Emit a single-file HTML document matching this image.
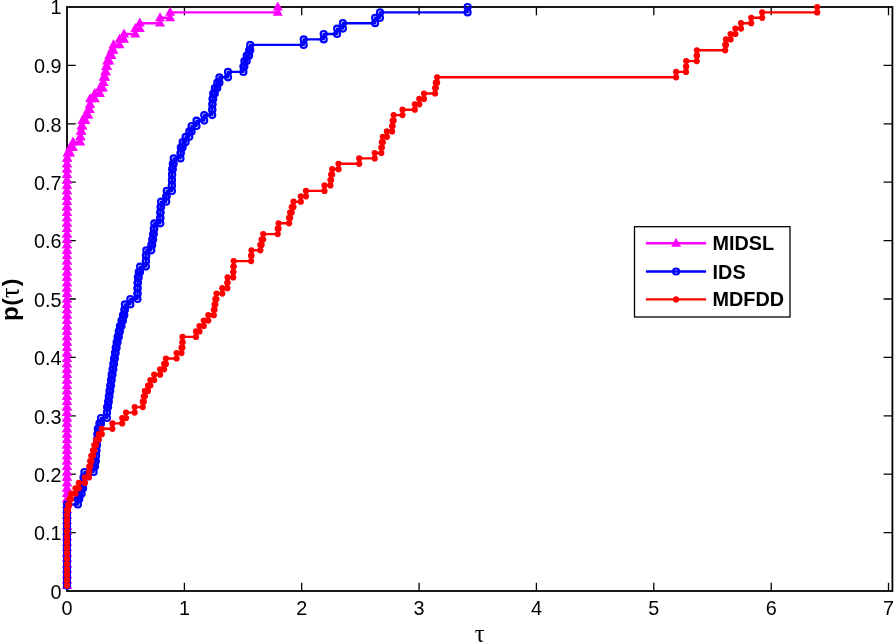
<!DOCTYPE html>
<html><head><meta charset="utf-8"><title>Performance profile</title>
<style>html,body{margin:0;padding:0;background:#fff}svg{display:block}text{font-family:"Liberation Sans",sans-serif;fill:#000}</style></head>
<body>
<svg width="894" height="642" viewBox="0 0 894 642">
<rect width="894" height="642" fill="#fff"/>
<defs><path id="t" d="M0-5.6L5 3.4H-5Z" fill="#f0f"/><circle id="c" r="3" fill="none" stroke="#00f" stroke-width="2.2"/><circle id="d" r="3.1" fill="#f00"/></defs>
<path d="M184.4 591.0v-8.2M184.4 7.0v8.2M301.7 591.0v-8.2M301.7 7.0v8.2M419.1 591.0v-8.2M419.1 7.0v8.2M536.4 591.0v-8.2M536.4 7.0v8.2M653.8 591.0v-8.2M653.8 7.0v8.2M771.2 591.0v-8.2M771.2 7.0v8.2M888.5 591.0v-8.2M888.5 7.0v8.2M67.0 532.6h8.8M892.4 532.6h-8.8M67.0 474.2h8.8M892.4 474.2h-8.8M67.0 415.8h8.8M892.4 415.8h-8.8M67.0 357.4h8.8M892.4 357.4h-8.8M67.0 299h8.8M892.4 299h-8.8M67.0 240.6h8.8M892.4 240.6h-8.8M67.0 182.2h8.8M892.4 182.2h-8.8M67.0 123.8h8.8M892.4 123.8h-8.8M67.0 65.4h8.8M892.4 65.4h-8.8" stroke="#000" stroke-width="1.3" fill="none"/>
<rect x="67.0" y="7.0" width="825.4" height="584.0" fill="none" stroke="#000" stroke-width="1.8"/>
<polyline fill="none" stroke="#f0f" stroke-width="2.4" stroke-linejoin="round" points="67,585.6 67,585.6 67,580.2 67,580.2 67,574.8 67,574.8 67,569.4 67,569.4 67,564 67,564 67,558.6 67,558.6 67,553.1 67,553.1 67,547.7 67,547.7 67,542.3 67,542.3 67,536.9 67,536.9 67,531.5 67,531.5 67,526.1 67,526.1 67,520.7 67,520.7 67,515.3 67,515.3 67,509.9 67,509.9 67,504.5 67,504.5 67,499.1 67,499.1 67,493.7 67,493.7 67,488.3 67,488.3 67,482.9 67,482.9 67,477.4 67,477.4 67,472 67,472 67,466.6 67,466.6 67,461.2 67,461.2 67,455.8 67,455.8 67,450.4 67,450.4 67,445 67,445 67,439.6 67,439.6 67,434.2 67,434.2 67,428.8 67,428.8 67,423.4 67,423.4 67,418 67,418 67,412.6 67,412.6 67,407.1 67,407.1 67,401.7 67,401.7 67,396.3 67,396.3 67,390.9 67,390.9 67,385.5 67,385.5 67,380.1 67,380.1 67,374.7 67,374.7 67,369.3 67,369.3 67,363.9 67,363.9 67,358.5 67,358.5 67,353.1 67,353.1 67,347.7 67,347.7 67,342.3 67,342.3 67,336.9 67,336.9 67,331.4 67,331.4 67,326 67,326 67,320.6 67,320.6 67,315.2 67,315.2 67,309.8 67,309.8 67,304.4 67,304.4 67,299 67,299 67,293.6 67,293.6 67,288.2 67,288.2 67,282.8 67,282.8 67,277.4 67,277.4 67,272 67,272 67,266.6 67,266.6 67,261.1 67,261.1 67,255.7 67,255.7 67,250.3 67,250.3 67,244.9 67,244.9 67,239.5 67,239.5 67,234.1 67,234.1 67,228.7 67,228.7 67,223.3 67,223.3 67,217.9 67,217.9 67,212.5 67,212.5 67,207.1 67,207.1 67,201.7 67,201.7 67,196.3 67,196.3 67,190.9 67,190.9 67,185.4 67,185.4 67,180 67,180 67,174.6 67,174.6 67,169.2 67,169.2 67,163.8 67,163.8 67,158.4 67.5,158.4 67.5,153 70.1,153 70.1,147.6 73,147.6 73,142.2 80.2,142.2 80.2,136.8 80.6,136.8 80.6,131.4 81.5,131.4 81.5,126 82.4,126 82.4,120.6 85.5,120.6 85.5,115.1 88.2,115.1 88.2,109.7 89.9,109.7 89.9,104.3 90.1,104.3 90.1,98.9 94.8,98.9 94.8,93.5 99.9,93.5 99.9,88.1 102.9,88.1 102.9,82.7 103.6,82.7 103.6,77.3 105.2,77.3 105.2,71.9 106,71.9 106,66.5 107.2,66.5 107.2,61.1 109.3,61.1 109.3,55.7 111.5,55.7 111.5,50.3 113.5,50.3 113.5,44.9 119.5,44.9 119.5,39.4 124,39.4 124,34 135.3,34 135.3,28.6 139.8,28.6 139.8,23.2 160,23.2 160,17.8 170.1,17.8 170.1,12.4 277.8,12.4 277.8,7"/>
<g><use href="#t" x="67" y="585.6"/><use href="#t" x="67" y="585.6"/><use href="#t" x="67" y="580.2"/><use href="#t" x="67" y="580.2"/><use href="#t" x="67" y="574.8"/><use href="#t" x="67" y="574.8"/><use href="#t" x="67" y="569.4"/><use href="#t" x="67" y="569.4"/><use href="#t" x="67" y="564"/><use href="#t" x="67" y="564"/><use href="#t" x="67" y="558.6"/><use href="#t" x="67" y="558.6"/><use href="#t" x="67" y="553.1"/><use href="#t" x="67" y="553.1"/><use href="#t" x="67" y="547.7"/><use href="#t" x="67" y="547.7"/><use href="#t" x="67" y="542.3"/><use href="#t" x="67" y="542.3"/><use href="#t" x="67" y="536.9"/><use href="#t" x="67" y="536.9"/><use href="#t" x="67" y="531.5"/><use href="#t" x="67" y="531.5"/><use href="#t" x="67" y="526.1"/><use href="#t" x="67" y="526.1"/><use href="#t" x="67" y="520.7"/><use href="#t" x="67" y="520.7"/><use href="#t" x="67" y="515.3"/><use href="#t" x="67" y="515.3"/><use href="#t" x="67" y="509.9"/><use href="#t" x="67" y="509.9"/><use href="#t" x="67" y="504.5"/><use href="#t" x="67" y="504.5"/><use href="#t" x="67" y="499.1"/><use href="#t" x="67" y="499.1"/><use href="#t" x="67" y="493.7"/><use href="#t" x="67" y="493.7"/><use href="#t" x="67" y="488.3"/><use href="#t" x="67" y="488.3"/><use href="#t" x="67" y="482.9"/><use href="#t" x="67" y="482.9"/><use href="#t" x="67" y="477.4"/><use href="#t" x="67" y="477.4"/><use href="#t" x="67" y="472"/><use href="#t" x="67" y="472"/><use href="#t" x="67" y="466.6"/><use href="#t" x="67" y="466.6"/><use href="#t" x="67" y="461.2"/><use href="#t" x="67" y="461.2"/><use href="#t" x="67" y="455.8"/><use href="#t" x="67" y="455.8"/><use href="#t" x="67" y="450.4"/><use href="#t" x="67" y="450.4"/><use href="#t" x="67" y="445"/><use href="#t" x="67" y="445"/><use href="#t" x="67" y="439.6"/><use href="#t" x="67" y="439.6"/><use href="#t" x="67" y="434.2"/><use href="#t" x="67" y="434.2"/><use href="#t" x="67" y="428.8"/><use href="#t" x="67" y="428.8"/><use href="#t" x="67" y="423.4"/><use href="#t" x="67" y="423.4"/><use href="#t" x="67" y="418"/><use href="#t" x="67" y="418"/><use href="#t" x="67" y="412.6"/><use href="#t" x="67" y="412.6"/><use href="#t" x="67" y="407.1"/><use href="#t" x="67" y="407.1"/><use href="#t" x="67" y="401.7"/><use href="#t" x="67" y="401.7"/><use href="#t" x="67" y="396.3"/><use href="#t" x="67" y="396.3"/><use href="#t" x="67" y="390.9"/><use href="#t" x="67" y="390.9"/><use href="#t" x="67" y="385.5"/><use href="#t" x="67" y="385.5"/><use href="#t" x="67" y="380.1"/><use href="#t" x="67" y="380.1"/><use href="#t" x="67" y="374.7"/><use href="#t" x="67" y="374.7"/><use href="#t" x="67" y="369.3"/><use href="#t" x="67" y="369.3"/><use href="#t" x="67" y="363.9"/><use href="#t" x="67" y="363.9"/><use href="#t" x="67" y="358.5"/><use href="#t" x="67" y="358.5"/><use href="#t" x="67" y="353.1"/><use href="#t" x="67" y="353.1"/><use href="#t" x="67" y="347.7"/><use href="#t" x="67" y="347.7"/><use href="#t" x="67" y="342.3"/><use href="#t" x="67" y="342.3"/><use href="#t" x="67" y="336.9"/><use href="#t" x="67" y="336.9"/><use href="#t" x="67" y="331.4"/><use href="#t" x="67" y="331.4"/><use href="#t" x="67" y="326"/><use href="#t" x="67" y="326"/><use href="#t" x="67" y="320.6"/><use href="#t" x="67" y="320.6"/><use href="#t" x="67" y="315.2"/><use href="#t" x="67" y="315.2"/><use href="#t" x="67" y="309.8"/><use href="#t" x="67" y="309.8"/><use href="#t" x="67" y="304.4"/><use href="#t" x="67" y="304.4"/><use href="#t" x="67" y="299"/><use href="#t" x="67" y="299"/><use href="#t" x="67" y="293.6"/><use href="#t" x="67" y="293.6"/><use href="#t" x="67" y="288.2"/><use href="#t" x="67" y="288.2"/><use href="#t" x="67" y="282.8"/><use href="#t" x="67" y="282.8"/><use href="#t" x="67" y="277.4"/><use href="#t" x="67" y="277.4"/><use href="#t" x="67" y="272"/><use href="#t" x="67" y="272"/><use href="#t" x="67" y="266.6"/><use href="#t" x="67" y="266.6"/><use href="#t" x="67" y="261.1"/><use href="#t" x="67" y="261.1"/><use href="#t" x="67" y="255.7"/><use href="#t" x="67" y="255.7"/><use href="#t" x="67" y="250.3"/><use href="#t" x="67" y="250.3"/><use href="#t" x="67" y="244.9"/><use href="#t" x="67" y="244.9"/><use href="#t" x="67" y="239.5"/><use href="#t" x="67" y="239.5"/><use href="#t" x="67" y="234.1"/><use href="#t" x="67" y="234.1"/><use href="#t" x="67" y="228.7"/><use href="#t" x="67" y="228.7"/><use href="#t" x="67" y="223.3"/><use href="#t" x="67" y="223.3"/><use href="#t" x="67" y="217.9"/><use href="#t" x="67" y="217.9"/><use href="#t" x="67" y="212.5"/><use href="#t" x="67" y="212.5"/><use href="#t" x="67" y="207.1"/><use href="#t" x="67" y="207.1"/><use href="#t" x="67" y="201.7"/><use href="#t" x="67" y="201.7"/><use href="#t" x="67" y="196.3"/><use href="#t" x="67" y="196.3"/><use href="#t" x="67" y="190.9"/><use href="#t" x="67" y="190.9"/><use href="#t" x="67" y="185.4"/><use href="#t" x="67" y="185.4"/><use href="#t" x="67" y="180"/><use href="#t" x="67" y="180"/><use href="#t" x="67" y="174.6"/><use href="#t" x="67" y="174.6"/><use href="#t" x="67" y="169.2"/><use href="#t" x="67" y="169.2"/><use href="#t" x="67" y="163.8"/><use href="#t" x="67" y="163.8"/><use href="#t" x="67" y="158.4"/><use href="#t" x="67.5" y="158.4"/><use href="#t" x="67.5" y="153"/><use href="#t" x="70.1" y="153"/><use href="#t" x="70.1" y="147.6"/><use href="#t" x="73" y="147.6"/><use href="#t" x="73" y="142.2"/><use href="#t" x="80.2" y="142.2"/><use href="#t" x="80.2" y="136.8"/><use href="#t" x="80.6" y="136.8"/><use href="#t" x="80.6" y="131.4"/><use href="#t" x="81.5" y="131.4"/><use href="#t" x="81.5" y="126"/><use href="#t" x="82.4" y="126"/><use href="#t" x="82.4" y="120.6"/><use href="#t" x="85.5" y="120.6"/><use href="#t" x="85.5" y="115.1"/><use href="#t" x="88.2" y="115.1"/><use href="#t" x="88.2" y="109.7"/><use href="#t" x="89.9" y="109.7"/><use href="#t" x="89.9" y="104.3"/><use href="#t" x="90.1" y="104.3"/><use href="#t" x="90.1" y="98.9"/><use href="#t" x="94.8" y="98.9"/><use href="#t" x="94.8" y="93.5"/><use href="#t" x="99.9" y="93.5"/><use href="#t" x="99.9" y="88.1"/><use href="#t" x="102.9" y="88.1"/><use href="#t" x="102.9" y="82.7"/><use href="#t" x="103.6" y="82.7"/><use href="#t" x="103.6" y="77.3"/><use href="#t" x="105.2" y="77.3"/><use href="#t" x="105.2" y="71.9"/><use href="#t" x="106" y="71.9"/><use href="#t" x="106" y="66.5"/><use href="#t" x="107.2" y="66.5"/><use href="#t" x="107.2" y="61.1"/><use href="#t" x="109.3" y="61.1"/><use href="#t" x="109.3" y="55.7"/><use href="#t" x="111.5" y="55.7"/><use href="#t" x="111.5" y="50.3"/><use href="#t" x="113.5" y="50.3"/><use href="#t" x="113.5" y="44.9"/><use href="#t" x="119.5" y="44.9"/><use href="#t" x="119.5" y="39.4"/><use href="#t" x="124" y="39.4"/><use href="#t" x="124" y="34"/><use href="#t" x="135.3" y="34"/><use href="#t" x="135.3" y="28.6"/><use href="#t" x="139.8" y="28.6"/><use href="#t" x="139.8" y="23.2"/><use href="#t" x="160" y="23.2"/><use href="#t" x="160" y="17.8"/><use href="#t" x="170.1" y="17.8"/><use href="#t" x="170.1" y="12.4"/><use href="#t" x="277.8" y="12.4"/><use href="#t" x="277.8" y="7"/></g>
<polyline fill="none" stroke="#00f" stroke-width="2.4" stroke-linejoin="round" points="67,585.6 67,585.6 67,580.2 67,580.2 67,574.8 67,574.8 67,569.4 67,569.4 67,564 67,564 67,558.6 67,558.6 67,553.1 67,553.1 67,547.7 67,547.7 67,542.3 67,542.3 67,536.9 67,536.9 67,531.5 67,531.5 67,526.1 67,526.1 67,520.7 67,520.7 67,515.3 67,515.3 67,509.9 67,509.9 67,504.5 77.9,504.5 77.9,499.1 79.3,499.1 79.3,493.7 81.6,493.7 81.6,488.3 83.1,488.3 83.1,482.9 83.5,482.9 83.5,477.4 84.4,477.4 84.4,472 93.6,472 93.6,466.6 95,466.6 95,461.2 95.8,461.2 95.8,455.8 96.1,455.8 96.1,450.4 96.5,450.4 96.5,445 97,445 97,439.6 97.4,439.6 97.4,434.2 97.8,434.2 97.8,428.8 99.4,428.8 99.4,423.4 101,423.4 101,418 106.9,418 106.9,412.6 107.1,412.6 107.1,407.1 108.1,407.1 108.1,401.7 108.8,401.7 108.8,396.3 109.5,396.3 109.5,390.9 110.2,390.9 110.2,385.5 111,385.5 111,380.1 111.7,380.1 111.7,374.7 112.5,374.7 112.5,369.3 113.3,369.3 113.3,363.9 114,363.9 114,358.5 114.9,358.5 114.9,353.1 115.7,353.1 115.7,347.7 116.6,347.7 116.6,342.3 117.6,342.3 117.6,336.9 118.8,336.9 118.8,331.4 119.9,331.4 119.9,326 121.5,326 121.5,320.6 123,320.6 123,315.2 124.3,315.2 124.3,309.8 124.9,309.8 124.9,304.4 130.3,304.4 130.3,299 137.5,299 137.5,293.6 137.5,293.6 137.5,288.2 137.6,288.2 137.6,282.8 137.9,282.8 137.9,277.4 138.7,277.4 138.7,272 140.1,272 140.1,266.6 145.9,266.6 145.9,261.1 145.9,261.1 145.9,255.7 146.3,255.7 146.3,250.3 151.3,250.3 151.3,244.9 152.2,244.9 152.2,239.5 153.1,239.5 153.1,234.1 153.8,234.1 153.8,228.7 154.3,228.7 154.3,223.3 160.3,223.3 160.3,217.9 160.3,217.9 160.3,212.5 160.5,212.5 160.5,207.1 161.1,207.1 161.1,201.7 166.2,201.7 166.2,196.3 166.7,196.3 166.7,190.9 171.9,190.9 171.9,185.4 171.9,185.4 171.9,180 172,180 172,174.6 172.2,174.6 172.2,169.2 172.8,169.2 172.8,163.8 173.7,163.8 173.7,158.4 180.5,158.4 180.5,153 180.8,153 180.8,147.6 182.6,147.6 182.6,142.2 185.6,142.2 185.6,136.8 189.3,136.8 189.3,131.4 191.6,131.4 191.6,126 196.5,126 196.5,120.6 204.2,120.6 204.2,115.1 212.2,115.1 212.2,109.7 212.3,109.7 212.3,104.3 212.5,104.3 212.5,98.9 213.2,98.9 213.2,93.5 214.8,93.5 214.8,88.1 217.3,88.1 217.3,82.7 219.4,82.7 219.4,77.3 228,77.3 228,71.9 243.4,71.9 243.4,66.5 244.4,66.5 244.4,61.1 246.7,61.1 246.7,55.7 249.1,55.7 249.1,50.3 250.2,50.3 250.2,44.9 303.7,44.9 303.7,39.4 323.7,39.4 323.7,34 337.1,34 337.1,28.6 342.9,28.6 342.9,23.2 375.1,23.2 375.1,17.8 380,17.8 380,12.4 467.6,12.4 467.6,7"/>
<g><use href="#c" x="67" y="585.6"/><use href="#c" x="67" y="585.6"/><use href="#c" x="67" y="580.2"/><use href="#c" x="67" y="580.2"/><use href="#c" x="67" y="574.8"/><use href="#c" x="67" y="574.8"/><use href="#c" x="67" y="569.4"/><use href="#c" x="67" y="569.4"/><use href="#c" x="67" y="564"/><use href="#c" x="67" y="564"/><use href="#c" x="67" y="558.6"/><use href="#c" x="67" y="558.6"/><use href="#c" x="67" y="553.1"/><use href="#c" x="67" y="553.1"/><use href="#c" x="67" y="547.7"/><use href="#c" x="67" y="547.7"/><use href="#c" x="67" y="542.3"/><use href="#c" x="67" y="542.3"/><use href="#c" x="67" y="536.9"/><use href="#c" x="67" y="536.9"/><use href="#c" x="67" y="531.5"/><use href="#c" x="67" y="531.5"/><use href="#c" x="67" y="526.1"/><use href="#c" x="67" y="526.1"/><use href="#c" x="67" y="520.7"/><use href="#c" x="67" y="520.7"/><use href="#c" x="67" y="515.3"/><use href="#c" x="67" y="515.3"/><use href="#c" x="67" y="509.9"/><use href="#c" x="67" y="509.9"/><use href="#c" x="67" y="504.5"/><use href="#c" x="77.9" y="504.5"/><use href="#c" x="77.9" y="499.1"/><use href="#c" x="79.3" y="499.1"/><use href="#c" x="79.3" y="493.7"/><use href="#c" x="81.6" y="493.7"/><use href="#c" x="81.6" y="488.3"/><use href="#c" x="83.1" y="488.3"/><use href="#c" x="83.1" y="482.9"/><use href="#c" x="83.5" y="482.9"/><use href="#c" x="83.5" y="477.4"/><use href="#c" x="84.4" y="477.4"/><use href="#c" x="84.4" y="472"/><use href="#c" x="93.6" y="472"/><use href="#c" x="93.6" y="466.6"/><use href="#c" x="95" y="466.6"/><use href="#c" x="95" y="461.2"/><use href="#c" x="95.8" y="461.2"/><use href="#c" x="95.8" y="455.8"/><use href="#c" x="96.1" y="455.8"/><use href="#c" x="96.1" y="450.4"/><use href="#c" x="96.5" y="450.4"/><use href="#c" x="96.5" y="445"/><use href="#c" x="97" y="445"/><use href="#c" x="97" y="439.6"/><use href="#c" x="97.4" y="439.6"/><use href="#c" x="97.4" y="434.2"/><use href="#c" x="97.8" y="434.2"/><use href="#c" x="97.8" y="428.8"/><use href="#c" x="99.4" y="428.8"/><use href="#c" x="99.4" y="423.4"/><use href="#c" x="101" y="423.4"/><use href="#c" x="101" y="418"/><use href="#c" x="106.9" y="418"/><use href="#c" x="106.9" y="412.6"/><use href="#c" x="107.1" y="412.6"/><use href="#c" x="107.1" y="407.1"/><use href="#c" x="108.1" y="407.1"/><use href="#c" x="108.1" y="401.7"/><use href="#c" x="108.8" y="401.7"/><use href="#c" x="108.8" y="396.3"/><use href="#c" x="109.5" y="396.3"/><use href="#c" x="109.5" y="390.9"/><use href="#c" x="110.2" y="390.9"/><use href="#c" x="110.2" y="385.5"/><use href="#c" x="111" y="385.5"/><use href="#c" x="111" y="380.1"/><use href="#c" x="111.7" y="380.1"/><use href="#c" x="111.7" y="374.7"/><use href="#c" x="112.5" y="374.7"/><use href="#c" x="112.5" y="369.3"/><use href="#c" x="113.3" y="369.3"/><use href="#c" x="113.3" y="363.9"/><use href="#c" x="114" y="363.9"/><use href="#c" x="114" y="358.5"/><use href="#c" x="114.9" y="358.5"/><use href="#c" x="114.9" y="353.1"/><use href="#c" x="115.7" y="353.1"/><use href="#c" x="115.7" y="347.7"/><use href="#c" x="116.6" y="347.7"/><use href="#c" x="116.6" y="342.3"/><use href="#c" x="117.6" y="342.3"/><use href="#c" x="117.6" y="336.9"/><use href="#c" x="118.8" y="336.9"/><use href="#c" x="118.8" y="331.4"/><use href="#c" x="119.9" y="331.4"/><use href="#c" x="119.9" y="326"/><use href="#c" x="121.5" y="326"/><use href="#c" x="121.5" y="320.6"/><use href="#c" x="123" y="320.6"/><use href="#c" x="123" y="315.2"/><use href="#c" x="124.3" y="315.2"/><use href="#c" x="124.3" y="309.8"/><use href="#c" x="124.9" y="309.8"/><use href="#c" x="124.9" y="304.4"/><use href="#c" x="130.3" y="304.4"/><use href="#c" x="130.3" y="299"/><use href="#c" x="137.5" y="299"/><use href="#c" x="137.5" y="293.6"/><use href="#c" x="137.5" y="293.6"/><use href="#c" x="137.5" y="288.2"/><use href="#c" x="137.6" y="288.2"/><use href="#c" x="137.6" y="282.8"/><use href="#c" x="137.9" y="282.8"/><use href="#c" x="137.9" y="277.4"/><use href="#c" x="138.7" y="277.4"/><use href="#c" x="138.7" y="272"/><use href="#c" x="140.1" y="272"/><use href="#c" x="140.1" y="266.6"/><use href="#c" x="145.9" y="266.6"/><use href="#c" x="145.9" y="261.1"/><use href="#c" x="145.9" y="261.1"/><use href="#c" x="145.9" y="255.7"/><use href="#c" x="146.3" y="255.7"/><use href="#c" x="146.3" y="250.3"/><use href="#c" x="151.3" y="250.3"/><use href="#c" x="151.3" y="244.9"/><use href="#c" x="152.2" y="244.9"/><use href="#c" x="152.2" y="239.5"/><use href="#c" x="153.1" y="239.5"/><use href="#c" x="153.1" y="234.1"/><use href="#c" x="153.8" y="234.1"/><use href="#c" x="153.8" y="228.7"/><use href="#c" x="154.3" y="228.7"/><use href="#c" x="154.3" y="223.3"/><use href="#c" x="160.3" y="223.3"/><use href="#c" x="160.3" y="217.9"/><use href="#c" x="160.3" y="217.9"/><use href="#c" x="160.3" y="212.5"/><use href="#c" x="160.5" y="212.5"/><use href="#c" x="160.5" y="207.1"/><use href="#c" x="161.1" y="207.1"/><use href="#c" x="161.1" y="201.7"/><use href="#c" x="166.2" y="201.7"/><use href="#c" x="166.2" y="196.3"/><use href="#c" x="166.7" y="196.3"/><use href="#c" x="166.7" y="190.9"/><use href="#c" x="171.9" y="190.9"/><use href="#c" x="171.9" y="185.4"/><use href="#c" x="171.9" y="185.4"/><use href="#c" x="171.9" y="180"/><use href="#c" x="172" y="180"/><use href="#c" x="172" y="174.6"/><use href="#c" x="172.2" y="174.6"/><use href="#c" x="172.2" y="169.2"/><use href="#c" x="172.8" y="169.2"/><use href="#c" x="172.8" y="163.8"/><use href="#c" x="173.7" y="163.8"/><use href="#c" x="173.7" y="158.4"/><use href="#c" x="180.5" y="158.4"/><use href="#c" x="180.5" y="153"/><use href="#c" x="180.8" y="153"/><use href="#c" x="180.8" y="147.6"/><use href="#c" x="182.6" y="147.6"/><use href="#c" x="182.6" y="142.2"/><use href="#c" x="185.6" y="142.2"/><use href="#c" x="185.6" y="136.8"/><use href="#c" x="189.3" y="136.8"/><use href="#c" x="189.3" y="131.4"/><use href="#c" x="191.6" y="131.4"/><use href="#c" x="191.6" y="126"/><use href="#c" x="196.5" y="126"/><use href="#c" x="196.5" y="120.6"/><use href="#c" x="204.2" y="120.6"/><use href="#c" x="204.2" y="115.1"/><use href="#c" x="212.2" y="115.1"/><use href="#c" x="212.2" y="109.7"/><use href="#c" x="212.3" y="109.7"/><use href="#c" x="212.3" y="104.3"/><use href="#c" x="212.5" y="104.3"/><use href="#c" x="212.5" y="98.9"/><use href="#c" x="213.2" y="98.9"/><use href="#c" x="213.2" y="93.5"/><use href="#c" x="214.8" y="93.5"/><use href="#c" x="214.8" y="88.1"/><use href="#c" x="217.3" y="88.1"/><use href="#c" x="217.3" y="82.7"/><use href="#c" x="219.4" y="82.7"/><use href="#c" x="219.4" y="77.3"/><use href="#c" x="228" y="77.3"/><use href="#c" x="228" y="71.9"/><use href="#c" x="243.4" y="71.9"/><use href="#c" x="243.4" y="66.5"/><use href="#c" x="244.4" y="66.5"/><use href="#c" x="244.4" y="61.1"/><use href="#c" x="246.7" y="61.1"/><use href="#c" x="246.7" y="55.7"/><use href="#c" x="249.1" y="55.7"/><use href="#c" x="249.1" y="50.3"/><use href="#c" x="250.2" y="50.3"/><use href="#c" x="250.2" y="44.9"/><use href="#c" x="303.7" y="44.9"/><use href="#c" x="303.7" y="39.4"/><use href="#c" x="323.7" y="39.4"/><use href="#c" x="323.7" y="34"/><use href="#c" x="337.1" y="34"/><use href="#c" x="337.1" y="28.6"/><use href="#c" x="342.9" y="28.6"/><use href="#c" x="342.9" y="23.2"/><use href="#c" x="375.1" y="23.2"/><use href="#c" x="375.1" y="17.8"/><use href="#c" x="380" y="17.8"/><use href="#c" x="380" y="12.4"/><use href="#c" x="467.6" y="12.4"/><use href="#c" x="467.6" y="7"/></g>
<polyline fill="none" stroke="#f00" stroke-width="2.4" stroke-linejoin="round" points="67,585.6 67,585.6 67,580.2 67,580.2 67,574.8 67,574.8 67,569.4 67,569.4 67,564 67,564 67,558.6 67,558.6 67,553.1 67,553.1 67,547.7 67,547.7 67,542.3 67,542.3 67,536.9 67,536.9 67,531.5 67,531.5 67,526.1 67,526.1 67,520.7 67,520.7 67,515.3 67,515.3 67,509.9 68,509.9 68,504.5 69.5,504.5 69.5,499.1 71.2,499.1 71.2,493.7 75.5,493.7 75.5,488.3 78.8,488.3 78.8,482.9 84.9,482.9 84.9,477.4 88.9,477.4 88.9,472 89.2,472 89.2,466.6 90.2,466.6 90.2,461.2 91.3,461.2 91.3,455.8 93,455.8 93,450.4 94.3,450.4 94.3,445 96.1,445 96.1,439.6 98.8,439.6 98.8,434.2 101.8,434.2 101.8,428.8 112.4,428.8 112.4,423.4 122.2,423.4 122.2,418 126,418 126,412.6 134.7,412.6 134.7,407.1 142.8,407.1 142.8,401.7 143.8,401.7 143.8,396.3 144.9,396.3 144.9,390.9 148,390.9 148,385.5 150.3,385.5 150.3,380.1 154.2,380.1 154.2,374.7 160.1,374.7 160.1,369.3 164.1,369.3 164.1,363.9 165.9,363.9 165.9,358.5 176.6,358.5 176.6,353.1 181.5,353.1 181.5,347.7 182.4,347.7 182.4,342.3 182.5,342.3 182.5,336.9 196,336.9 196,331.4 199.5,331.4 199.5,326 203.8,326 203.8,320.6 208.3,320.6 208.3,315.2 213.8,315.2 213.8,309.8 214.6,309.8 214.6,304.4 215.3,304.4 215.3,299 216.5,299 216.5,293.6 222.3,293.6 222.3,288.2 227.3,288.2 227.3,282.8 227.6,282.8 227.6,277.4 233.2,277.4 233.2,272 233.4,272 233.4,266.6 233.7,266.6 233.7,261.1 251.1,261.1 251.1,255.7 251.5,255.7 251.5,250.3 260.3,250.3 260.3,244.9 261.6,244.9 261.6,239.5 263.2,239.5 263.2,234.1 277.7,234.1 277.7,228.7 278.6,228.7 278.6,223.3 289.1,223.3 289.1,217.9 290.1,217.9 290.1,212.5 291.7,212.5 291.7,207.1 293.5,207.1 293.5,201.7 300.8,201.7 300.8,196.3 306,196.3 306,190.9 324.5,190.9 324.5,185.4 330.4,185.4 330.4,180 331.1,180 331.1,174.6 332.2,174.6 332.2,169.2 338.5,169.2 338.5,163.8 359.2,163.8 359.2,158.4 374.7,158.4 374.7,153 381.3,153 381.3,147.6 381.9,147.6 381.9,142.2 382.8,142.2 382.8,136.8 386.9,136.8 386.9,131.4 392.1,131.4 392.1,126 392.6,126 392.6,120.6 393.7,120.6 393.7,115.1 402.5,115.1 402.5,109.7 414.8,109.7 414.8,104.3 419.3,104.3 419.3,98.9 424,98.9 424,93.5 435.1,93.5 435.1,88.1 435.8,88.1 435.8,82.7 437.1,82.7 437.1,77.3 676.1,77.3 676.1,71.9 686,71.9 686,66.5 686.2,66.5 686.2,61.1 696.7,61.1 696.7,55.7 696.9,55.7 696.9,50.3 725.2,50.3 725.2,44.9 726,44.9 726,39.4 730.6,39.4 730.6,34 735.4,34 735.4,28.6 741,28.6 741,23.2 751.2,23.2 751.2,17.8 762.2,17.8 762.2,12.4 817.2,12.4 817.2,7"/>
<g><use href="#d" x="67" y="585.6"/><use href="#d" x="67" y="585.6"/><use href="#d" x="67" y="580.2"/><use href="#d" x="67" y="580.2"/><use href="#d" x="67" y="574.8"/><use href="#d" x="67" y="574.8"/><use href="#d" x="67" y="569.4"/><use href="#d" x="67" y="569.4"/><use href="#d" x="67" y="564"/><use href="#d" x="67" y="564"/><use href="#d" x="67" y="558.6"/><use href="#d" x="67" y="558.6"/><use href="#d" x="67" y="553.1"/><use href="#d" x="67" y="553.1"/><use href="#d" x="67" y="547.7"/><use href="#d" x="67" y="547.7"/><use href="#d" x="67" y="542.3"/><use href="#d" x="67" y="542.3"/><use href="#d" x="67" y="536.9"/><use href="#d" x="67" y="536.9"/><use href="#d" x="67" y="531.5"/><use href="#d" x="67" y="531.5"/><use href="#d" x="67" y="526.1"/><use href="#d" x="67" y="526.1"/><use href="#d" x="67" y="520.7"/><use href="#d" x="67" y="520.7"/><use href="#d" x="67" y="515.3"/><use href="#d" x="67" y="515.3"/><use href="#d" x="67" y="509.9"/><use href="#d" x="68" y="509.9"/><use href="#d" x="68" y="504.5"/><use href="#d" x="69.5" y="504.5"/><use href="#d" x="69.5" y="499.1"/><use href="#d" x="71.2" y="499.1"/><use href="#d" x="71.2" y="493.7"/><use href="#d" x="75.5" y="493.7"/><use href="#d" x="75.5" y="488.3"/><use href="#d" x="78.8" y="488.3"/><use href="#d" x="78.8" y="482.9"/><use href="#d" x="84.9" y="482.9"/><use href="#d" x="84.9" y="477.4"/><use href="#d" x="88.9" y="477.4"/><use href="#d" x="88.9" y="472"/><use href="#d" x="89.2" y="472"/><use href="#d" x="89.2" y="466.6"/><use href="#d" x="90.2" y="466.6"/><use href="#d" x="90.2" y="461.2"/><use href="#d" x="91.3" y="461.2"/><use href="#d" x="91.3" y="455.8"/><use href="#d" x="93" y="455.8"/><use href="#d" x="93" y="450.4"/><use href="#d" x="94.3" y="450.4"/><use href="#d" x="94.3" y="445"/><use href="#d" x="96.1" y="445"/><use href="#d" x="96.1" y="439.6"/><use href="#d" x="98.8" y="439.6"/><use href="#d" x="98.8" y="434.2"/><use href="#d" x="101.8" y="434.2"/><use href="#d" x="101.8" y="428.8"/><use href="#d" x="112.4" y="428.8"/><use href="#d" x="112.4" y="423.4"/><use href="#d" x="122.2" y="423.4"/><use href="#d" x="122.2" y="418"/><use href="#d" x="126" y="418"/><use href="#d" x="126" y="412.6"/><use href="#d" x="134.7" y="412.6"/><use href="#d" x="134.7" y="407.1"/><use href="#d" x="142.8" y="407.1"/><use href="#d" x="142.8" y="401.7"/><use href="#d" x="143.8" y="401.7"/><use href="#d" x="143.8" y="396.3"/><use href="#d" x="144.9" y="396.3"/><use href="#d" x="144.9" y="390.9"/><use href="#d" x="148" y="390.9"/><use href="#d" x="148" y="385.5"/><use href="#d" x="150.3" y="385.5"/><use href="#d" x="150.3" y="380.1"/><use href="#d" x="154.2" y="380.1"/><use href="#d" x="154.2" y="374.7"/><use href="#d" x="160.1" y="374.7"/><use href="#d" x="160.1" y="369.3"/><use href="#d" x="164.1" y="369.3"/><use href="#d" x="164.1" y="363.9"/><use href="#d" x="165.9" y="363.9"/><use href="#d" x="165.9" y="358.5"/><use href="#d" x="176.6" y="358.5"/><use href="#d" x="176.6" y="353.1"/><use href="#d" x="181.5" y="353.1"/><use href="#d" x="181.5" y="347.7"/><use href="#d" x="182.4" y="347.7"/><use href="#d" x="182.4" y="342.3"/><use href="#d" x="182.5" y="342.3"/><use href="#d" x="182.5" y="336.9"/><use href="#d" x="196" y="336.9"/><use href="#d" x="196" y="331.4"/><use href="#d" x="199.5" y="331.4"/><use href="#d" x="199.5" y="326"/><use href="#d" x="203.8" y="326"/><use href="#d" x="203.8" y="320.6"/><use href="#d" x="208.3" y="320.6"/><use href="#d" x="208.3" y="315.2"/><use href="#d" x="213.8" y="315.2"/><use href="#d" x="213.8" y="309.8"/><use href="#d" x="214.6" y="309.8"/><use href="#d" x="214.6" y="304.4"/><use href="#d" x="215.3" y="304.4"/><use href="#d" x="215.3" y="299"/><use href="#d" x="216.5" y="299"/><use href="#d" x="216.5" y="293.6"/><use href="#d" x="222.3" y="293.6"/><use href="#d" x="222.3" y="288.2"/><use href="#d" x="227.3" y="288.2"/><use href="#d" x="227.3" y="282.8"/><use href="#d" x="227.6" y="282.8"/><use href="#d" x="227.6" y="277.4"/><use href="#d" x="233.2" y="277.4"/><use href="#d" x="233.2" y="272"/><use href="#d" x="233.4" y="272"/><use href="#d" x="233.4" y="266.6"/><use href="#d" x="233.7" y="266.6"/><use href="#d" x="233.7" y="261.1"/><use href="#d" x="251.1" y="261.1"/><use href="#d" x="251.1" y="255.7"/><use href="#d" x="251.5" y="255.7"/><use href="#d" x="251.5" y="250.3"/><use href="#d" x="260.3" y="250.3"/><use href="#d" x="260.3" y="244.9"/><use href="#d" x="261.6" y="244.9"/><use href="#d" x="261.6" y="239.5"/><use href="#d" x="263.2" y="239.5"/><use href="#d" x="263.2" y="234.1"/><use href="#d" x="277.7" y="234.1"/><use href="#d" x="277.7" y="228.7"/><use href="#d" x="278.6" y="228.7"/><use href="#d" x="278.6" y="223.3"/><use href="#d" x="289.1" y="223.3"/><use href="#d" x="289.1" y="217.9"/><use href="#d" x="290.1" y="217.9"/><use href="#d" x="290.1" y="212.5"/><use href="#d" x="291.7" y="212.5"/><use href="#d" x="291.7" y="207.1"/><use href="#d" x="293.5" y="207.1"/><use href="#d" x="293.5" y="201.7"/><use href="#d" x="300.8" y="201.7"/><use href="#d" x="300.8" y="196.3"/><use href="#d" x="306" y="196.3"/><use href="#d" x="306" y="190.9"/><use href="#d" x="324.5" y="190.9"/><use href="#d" x="324.5" y="185.4"/><use href="#d" x="330.4" y="185.4"/><use href="#d" x="330.4" y="180"/><use href="#d" x="331.1" y="180"/><use href="#d" x="331.1" y="174.6"/><use href="#d" x="332.2" y="174.6"/><use href="#d" x="332.2" y="169.2"/><use href="#d" x="338.5" y="169.2"/><use href="#d" x="338.5" y="163.8"/><use href="#d" x="359.2" y="163.8"/><use href="#d" x="359.2" y="158.4"/><use href="#d" x="374.7" y="158.4"/><use href="#d" x="374.7" y="153"/><use href="#d" x="381.3" y="153"/><use href="#d" x="381.3" y="147.6"/><use href="#d" x="381.9" y="147.6"/><use href="#d" x="381.9" y="142.2"/><use href="#d" x="382.8" y="142.2"/><use href="#d" x="382.8" y="136.8"/><use href="#d" x="386.9" y="136.8"/><use href="#d" x="386.9" y="131.4"/><use href="#d" x="392.1" y="131.4"/><use href="#d" x="392.1" y="126"/><use href="#d" x="392.6" y="126"/><use href="#d" x="392.6" y="120.6"/><use href="#d" x="393.7" y="120.6"/><use href="#d" x="393.7" y="115.1"/><use href="#d" x="402.5" y="115.1"/><use href="#d" x="402.5" y="109.7"/><use href="#d" x="414.8" y="109.7"/><use href="#d" x="414.8" y="104.3"/><use href="#d" x="419.3" y="104.3"/><use href="#d" x="419.3" y="98.9"/><use href="#d" x="424" y="98.9"/><use href="#d" x="424" y="93.5"/><use href="#d" x="435.1" y="93.5"/><use href="#d" x="435.1" y="88.1"/><use href="#d" x="435.8" y="88.1"/><use href="#d" x="435.8" y="82.7"/><use href="#d" x="437.1" y="82.7"/><use href="#d" x="437.1" y="77.3"/><use href="#d" x="676.1" y="77.3"/><use href="#d" x="676.1" y="71.9"/><use href="#d" x="686" y="71.9"/><use href="#d" x="686" y="66.5"/><use href="#d" x="686.2" y="66.5"/><use href="#d" x="686.2" y="61.1"/><use href="#d" x="696.7" y="61.1"/><use href="#d" x="696.7" y="55.7"/><use href="#d" x="696.9" y="55.7"/><use href="#d" x="696.9" y="50.3"/><use href="#d" x="725.2" y="50.3"/><use href="#d" x="725.2" y="44.9"/><use href="#d" x="726" y="44.9"/><use href="#d" x="726" y="39.4"/><use href="#d" x="730.6" y="39.4"/><use href="#d" x="730.6" y="34"/><use href="#d" x="735.4" y="34"/><use href="#d" x="735.4" y="28.6"/><use href="#d" x="741" y="28.6"/><use href="#d" x="741" y="23.2"/><use href="#d" x="751.2" y="23.2"/><use href="#d" x="751.2" y="17.8"/><use href="#d" x="762.2" y="17.8"/><use href="#d" x="762.2" y="12.4"/><use href="#d" x="817.2" y="12.4"/><use href="#d" x="817.2" y="7"/></g>
<text x="67" y="615" font-size="19.8" text-anchor="middle">0</text>
<text x="184.4" y="615" font-size="19.8" text-anchor="middle">1</text>
<text x="301.7" y="615" font-size="19.8" text-anchor="middle">2</text>
<text x="419.1" y="615" font-size="19.8" text-anchor="middle">3</text>
<text x="536.4" y="615" font-size="19.8" text-anchor="middle">4</text>
<text x="653.8" y="615" font-size="19.8" text-anchor="middle">5</text>
<text x="771.2" y="615" font-size="19.8" text-anchor="middle">6</text>
<text x="888.5" y="615" font-size="19.8" text-anchor="middle">7</text>
<text x="61.5" y="598.7" font-size="19.8" text-anchor="end">0</text>
<text x="61.5" y="540.3" font-size="19.8" text-anchor="end">0.1</text>
<text x="61.5" y="481.9" font-size="19.8" text-anchor="end">0.2</text>
<text x="61.5" y="423.5" font-size="19.8" text-anchor="end">0.3</text>
<text x="61.5" y="365.1" font-size="19.8" text-anchor="end">0.4</text>
<text x="61.5" y="306.7" font-size="19.8" text-anchor="end">0.5</text>
<text x="61.5" y="248.3" font-size="19.8" text-anchor="end">0.6</text>
<text x="61.5" y="189.9" font-size="19.8" text-anchor="end">0.7</text>
<text x="61.5" y="131.5" font-size="19.8" text-anchor="end">0.8</text>
<text x="61.5" y="73.1" font-size="19.8" text-anchor="end">0.9</text>
<text x="61.5" y="14" font-size="19.8" text-anchor="end">1</text>
<text x="479.6" y="642" font-size="24.5" text-anchor="middle" style="font-family:'Liberation Serif',serif">τ</text>
<text transform="translate(18 321) rotate(-90)" font-size="24" font-weight="bold">p<tspan dx="0.5" font-size="22.9">(</tspan><tspan dx="0.3" dy="0.9" font-weight="normal" font-size="26.5" style="font-family:'Liberation Serif',serif">τ</tspan><tspan dx="0.9" dy="-0.9" font-size="22.9">)</tspan></text>
<rect x="634.5" y="226.7" width="155.5" height="90.3" fill="#fff" stroke="#000" stroke-width="1.3"/>
<path d="M645.9 243.3H706.1" stroke="#f0f" stroke-width="2.4"/><use href="#t" x="676.1" y="243.3"/>
<text x="712.6" y="250.3" font-size="19.8" font-weight="bold">MIDSL</text>
<path d="M645.9 271.5H706.1" stroke="#00f" stroke-width="2.4"/><use href="#c" x="676.1" y="271.5"/>
<text x="712.6" y="278.5" font-size="19.8" font-weight="bold">IDS</text>
<path d="M645.9 299.4H706.1" stroke="#f00" stroke-width="2.4"/><use href="#d" x="676.1" y="299.4"/>
<text x="712.6" y="306.4" font-size="19.8" font-weight="bold">MDFDD</text>
</svg></body></html>
